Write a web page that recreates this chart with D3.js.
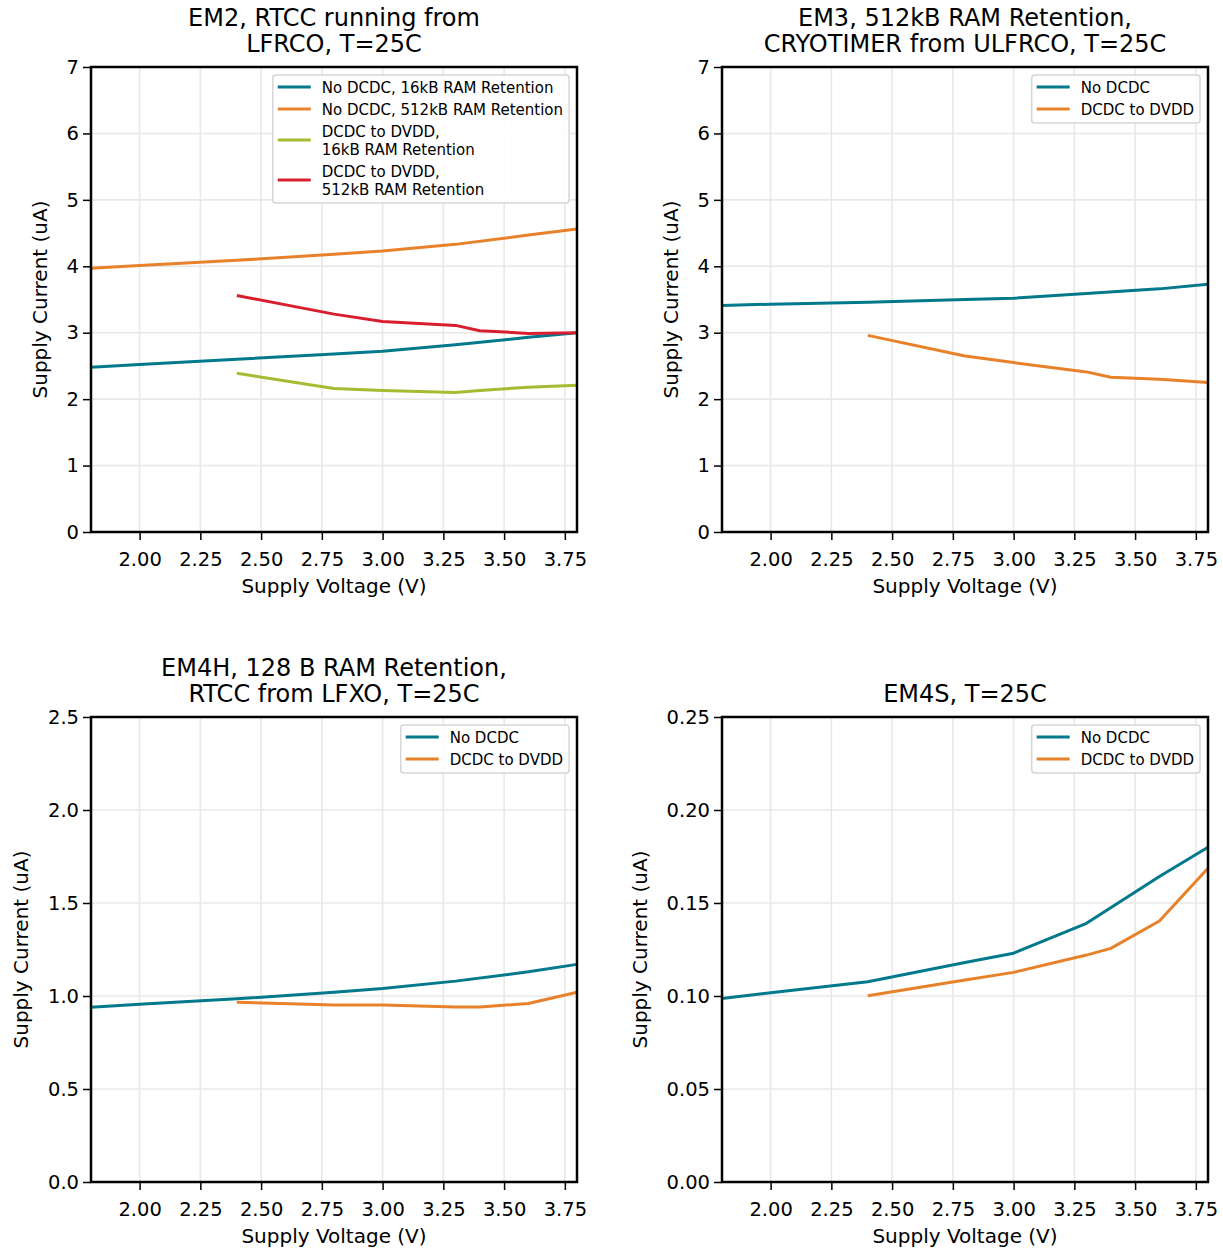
<!DOCTYPE html>
<html lang="en">
<head>
<meta charset="UTF-8">
<title>Supply current vs supply voltage</title>
<script src="https://d3js.org/d3.v7.min.js"></script>
<style>
  body { margin: 0; background: #fff; font-family: "DejaVu Sans", sans-serif; }
  .grid line { stroke: #e8e8e8; stroke-width: 1.6; }
  .tick text { fill: #000; }
</style>
</head>
<body>
<div id="chart"></div>
<script>
// voltages (V)
const vNoDcdc = [1.8, 2.0, 2.4, 2.8, 3.0, 3.3, 3.6, 3.8];
const vDcdc = [2.4, 2.8, 3.0, 3.3, 3.4, 3.6, 3.8];
const xTicks = [2.0, 2.25, 2.5, 2.75, 3.0, 3.25, 3.5, 3.75];

// EM2 (uA)
const em2NoDcdc16k = [2.48, 2.52, 2.60, 2.68, 2.72, 2.82, 2.93, 3.00];
const em2NoDcdc512k = [3.97, 4.01, 4.09, 4.18, 4.23, 4.33, 4.47, 4.56];
const em2Dcdc16k = [2.39, 2.16, 2.13, 2.10, 2.13, 2.18, 2.21];
const em2Dcdc512k = [3.56, 3.28, 3.17, 3.11, 3.03, 2.99, 3.00];

// EM3 (uA)
const em3NoDcdc = [3.41, 3.43, 3.46, 3.50, 3.52, 3.59, 3.66, 3.73];
const em3Dcdc = [2.96, 2.65, 2.55, 2.41, 2.33, 2.30, 2.25];

// EM4H (uA)
const em4hNoDcdc = [0.94, 0.955, 0.985, 1.02, 1.04, 1.08, 1.13, 1.17];
const em4hDcdc = [0.967, 0.952, 0.951, 0.941, 0.941, 0.96, 1.02];

// EM4S (uA)
const em4sNoDcdc = [0.0987, 0.1018, 0.1077, 0.118, 0.123, 0.1391, 0.1642, 0.180];
const em4sDcdc = [0.1001, 0.1086, 0.1127, 0.122, 0.1256, 0.1403, 0.1687];

const blue = "#00798c", orange = "#e8822a", green = "#a3bd33", red = "#d91f2e";

const panels = [
  { left: 91, top: 67, title: ["EM2, RTCC running from", "LFRCO, T=25C"],
    yMax: 7, yTicks: d3.range(0, 8), fmt: d3.format("d"),
    series: [
      { name: ["No DCDC, 16kB RAM Retention"], x: vNoDcdc, y: em2NoDcdc16k, color: blue },
      { name: ["No DCDC, 512kB RAM Retention"], x: vNoDcdc, y: em2NoDcdc512k, color: orange },
      { name: ["DCDC to DVDD,", "16kB RAM Retention"], x: vDcdc, y: em2Dcdc16k, color: green },
      { name: ["DCDC to DVDD,", "512kB RAM Retention"], x: vDcdc, y: em2Dcdc512k, color: red }
    ] },
  { left: 722, top: 67, title: ["EM3, 512kB RAM Retention,", "CRYOTIMER from ULFRCO, T=25C"],
    yMax: 7, yTicks: d3.range(0, 8), fmt: d3.format("d"),
    series: [
      { name: ["No DCDC"], x: vNoDcdc, y: em3NoDcdc, color: blue },
      { name: ["DCDC to DVDD"], x: vDcdc, y: em3Dcdc, color: orange }
    ] },
  { left: 91, top: 717, title: ["EM4H, 128 B RAM Retention,", "RTCC from LFXO, T=25C"],
    yMax: 2.5, yTicks: d3.range(0, 2.51, 0.5), fmt: d3.format(".1f"),
    series: [
      { name: ["No DCDC"], x: vNoDcdc, y: em4hNoDcdc, color: blue },
      { name: ["DCDC to DVDD"], x: vDcdc, y: em4hDcdc, color: orange }
    ] },
  { left: 722, top: 717, title: ["EM4S, T=25C"],
    yMax: 0.25, yTicks: [0, 0.05, 0.1, 0.15, 0.2, 0.25], fmt: d3.format(".2f"),
    series: [
      { name: ["No DCDC"], x: vNoDcdc, y: em4sNoDcdc, color: blue },
      { name: ["DCDC to DVDD"], x: vDcdc, y: em4sDcdc, color: orange }
    ] }
];

const W = 486, H = 465;
const svg = d3.select("#chart").append("svg")
  .attr("width", 1223).attr("height", 1251);

panels.forEach(p => {
  const g = svg.append("g").attr("transform", `translate(${p.left},${p.top})`);
  const x = d3.scaleLinear().domain([1.8, 3.8]).range([0, W]);
  const y = d3.scaleLinear().domain([0, p.yMax]).range([H, 0]);

  // grid
  const grid = g.append("g").attr("class", "grid");
  grid.selectAll(".gx").data(xTicks).enter().append("line")
    .attr("x1", d => x(d)).attr("x2", d => x(d)).attr("y1", 0).attr("y2", H);
  grid.selectAll(".gy").data(p.yTicks).enter().append("line")
    .attr("x1", 0).attr("x2", W).attr("y1", d => y(d)).attr("y2", d => y(d));

  // lines
  const line = d3.line().x(d => x(d[0])).y(d => y(d[1]));
  p.series.forEach(s => {
    g.append("path")
      .datum(s.x.map((v, i) => [v, s.y[i]]))
      .attr("fill", "none").attr("stroke", s.color)
      .attr("stroke-width", 3).attr("stroke-linejoin", "round")
      .attr("d", line);
  });

  // axes
  const xAxis = g.append("g").attr("transform", `translate(0,${H})`)
    .call(d3.axisBottom(x).tickValues(xTicks).tickFormat(d3.format(".2f")).tickSize(8).tickPadding(12));
  const yAxis = g.append("g")
    .call(d3.axisLeft(y).tickValues(p.yTicks).tickFormat(p.fmt).tickSize(8).tickPadding(4));
  [xAxis, yAxis].forEach(a => {
    a.select(".domain").remove();
    a.selectAll(".tick line").attr("stroke", "#000").attr("stroke-width", 1.5);
    a.selectAll(".tick text").attr("font-size", 19.5).attr("font-family", "DejaVu Sans");
  });

  // frame
  g.append("rect").attr("width", W).attr("height", H)
    .attr("fill", "none").attr("stroke", "#000").attr("stroke-width", 2.5);

  // labels
  g.append("text").attr("x", W / 2).attr("y", H + 61)
    .attr("text-anchor", "middle").attr("font-size", 20).text("Supply Voltage (V)");

  let maxW = 0;
  yAxis.selectAll(".tick text").each(function () { maxW = Math.max(maxW, this.getBBox().width); });
  g.append("text")
    .attr("transform", `translate(${-12 - maxW - 20},${H / 2}) rotate(-90)`)
    .attr("text-anchor", "middle").attr("font-size", 20).text("Supply Current (uA)");

  const title = g.append("text").attr("text-anchor", "middle").attr("font-size", 24);
  const n = p.title.length;
  p.title.forEach((t, i) => {
    title.append("tspan").attr("x", W / 2).attr("y", -15 - (n - 1 - i) * 26).text(t);
  });

  // legend
  const lineH = 18, gap = 4;
  const rows = [];
  let yy = 12;
  p.series.forEach(s => { rows.push({ s, y: yy }); yy += s.name.length * lineH + gap; });
  const legH = yy - lineH - gap + 14;
  const leg = g.append("g");
  let legW = 0;
  rows.forEach(r => {
    const cy = r.y + (r.s.name.length - 1) * lineH / 2;
    leg.append("line").attr("x1", 5).attr("x2", 38).attr("y1", cy).attr("y2", cy)
      .attr("stroke", r.s.color).attr("stroke-width", 3);
    const t = leg.append("text").attr("font-size", 15);
    r.s.name.forEach((nm, i) => {
      t.append("tspan").attr("x", 49).attr("y", r.y + i * lineH + 5.5).text(nm);
    });
    legW = Math.max(legW, 49 + t.node().getBBox().width);
  });
  legW += 6;
  leg.insert("rect", ":first-child")
    .attr("width", legW).attr("height", legH)
    .attr("rx", 3).attr("fill", "#fff").attr("fill-opacity", 0.85)
    .attr("stroke", "#d6d6d6").attr("stroke-width", 1.5);
  leg.attr("transform", `translate(${W - 8 - legW},8)`);
});
</script>
</body>
</html>
